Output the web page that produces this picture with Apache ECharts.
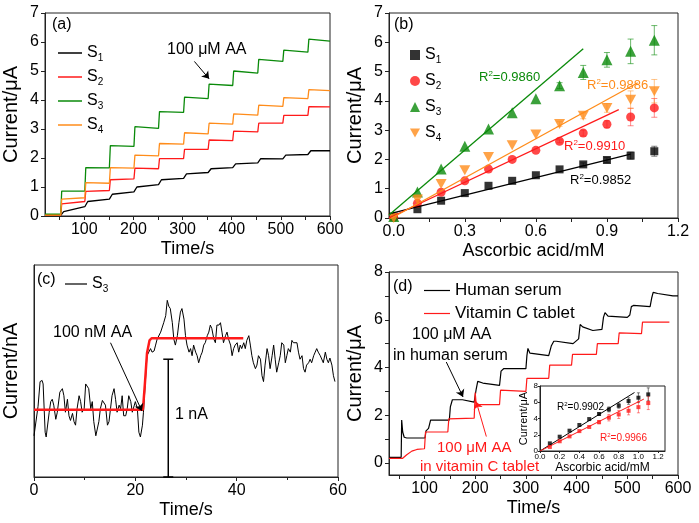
<!DOCTYPE html>
<html>
<head>
<meta charset="utf-8">
<title>Ascorbic acid sensing</title>
<script src="https://cdn.jsdelivr.net/npm/echarts@6/dist/echarts.min.js"></script>
<style>
  html, body { margin: 0; padding: 0; background: #fff; }
  #chart { width: 699px; height: 523px; }
</style>
</head>
<body>
<div id="chart"></div>
<script>
// ---- panel (a): amperometric steps, 100 uM AA each ----
const aTimes   = [52, 101, 151, 201, 251, 302, 352, 402, 453, 504, 555];
const aBase    = [0.02, 0.03, 0.06, 0.03];
const aS1Start = [0.15, 0.50, 0.75, 1.00, 1.25, 1.45, 1.63, 1.80, 1.98, 2.10, 2.25];
const aS1End   = [0.32, 0.58, 0.83, 1.08, 1.30, 1.50, 1.67, 1.83, 1.97, 2.12, 2.25];
const aS2Start = [0.42, 0.85, 1.25, 1.65, 1.98, 2.30, 2.62, 2.93, 3.20, 3.47, 3.77];
const aS2End   = [0.50, 0.88, 1.28, 1.63, 1.98, 2.30, 2.60, 2.90, 3.20, 3.47, 3.76];
const aS3Start = [0.86, 1.67, 2.43, 3.08, 3.60, 4.10, 4.55, 5.00, 5.40, 5.72, 6.10];
const aS3End   = [0.86, 1.66, 2.40, 3.02, 3.57, 4.05, 4.50, 4.93, 5.33, 5.65, 6.03];
const aS4Start = [0.58, 1.15, 1.67, 2.10, 2.50, 2.87, 3.20, 3.52, 3.82, 4.08, 4.36];
const aS4End   = [0.63, 1.13, 1.65, 2.07, 2.48, 2.83, 3.17, 3.48, 3.78, 4.05, 4.32];
const aArrow   = [[324, 5.33], [354, 4.73]];
const aXLabels = [100, 200, 300, 400, 500, 600];
const aXTicks  = [50, 100, 150, 200, 250, 300, 350, 400, 450, 500, 550, 600];

// ---- panel (b): calibration ----
const bConc = [0, 0.1, 0.2, 0.3, 0.4, 0.5, 0.6, 0.7, 0.8, 0.9, 1.0, 1.1];
const bS1 = [0.05, 0.30, 0.59, 0.85, 1.10, 1.27, 1.46, 1.66, 1.83, 1.98, 2.13, 2.28];
const bS2 = [0.02, 0.50, 0.88, 1.27, 1.67, 2.00, 2.31, 2.62, 2.90, 3.20, 3.45, 3.76];
const bS3 = [0.05, 0.89, 1.67, 2.45, 3.04, 3.59, 4.07, 4.52, 4.97, 5.40, 5.69, 6.07];
const bS4 = [0.00, 0.63, 1.16, 1.63, 2.08, 2.48, 2.85, 3.21, 3.49, 3.76, 4.04, 4.33];
const bE1 = [0, 0, 0, 0, 0, 0, 0, 0, 0.05, 0.08, 0.12, 0.17];
const bE2 = [0, 0, 0, 0, 0, 0, 0, 0.05, 0.10, 0.12, 0.30, 0.32];
const bE3 = [0, 0, 0, 0, 0, 0, 0, 0.10, 0.24, 0.25, 0.42, 0.50];
const bE4 = [0, 0, 0, 0, 0, 0, 0, 0.08, 0.10, 0.15, 0.30, 0.40];
const bFit1 = [[-0.02, 0.14], [1.0, 2.18]];
const bFit2 = [[-0.02, 0.0], [0.95, 3.7]];
const bFit3 = [[-0.02, 0.1], [0.8, 5.78]];
const bFit4 = [[-0.02, -0.05], [1.03, 4.62]];
const bXLabels = [0, 0.3, 0.6, 0.9, 1.2];
const bXTicks  = [0, 0.15, 0.3, 0.45, 0.6, 0.75, 0.9, 1.05, 1.2];

// ---- panel (c): 100 nM AA response of S3 ----
const cNoise = [[0.0,0.35],[0.3,0.34],[0.8,0.60],[1.2,0.81],[1.6,0.82],[1.8,0.79],[2.2,0.38],[2.4,0.34],
  [3.0,0.55],[3.3,0.64],[3.6,0.66],[3.9,0.61],[4.3,0.49],[4.6,0.55],[5.1,0.72],[5.6,0.75],[5.9,0.69],
  [6.2,0.55],[6.6,0.66],[6.9,0.52],[7.2,0.48],[7.6,0.54],[7.9,0.47],[8.2,0.44],[8.5,0.58],[8.9,0.69],
  [9.2,0.64],[9.5,0.55],[9.9,0.58],[10.2,0.79],[10.5,0.78],[10.8,0.75],[11.2,0.58],[11.5,0.64],[11.8,0.47],
  [12.2,0.35],[12.5,0.34],[12.8,0.47],[13.1,0.58],[13.5,0.65],[13.8,0.66],[14.1,0.61],[14.5,0.44],[14.8,0.47],
  [15.1,0.58],[15.4,0.69],[15.8,0.75],[16.1,0.66],[16.4,0.55],[16.8,0.61],[17.1,0.58],[17.4,0.69],[17.7,0.52],
  [18.1,0.52],[18.4,0.58],[18.7,0.69],[19.1,0.64],[19.4,0.55],[19.7,0.55],[20.0,0.64],[20.4,0.58],[20.7,0.38],
  [21.0,0.34],[21.4,0.44],[21.6,0.55],[22.3,1.03],[23.0,1.09],[23.3,1.06],[23.7,1.07],[24.0,1.12],[24.3,1.17],
  [25.0,1.23],[25.6,1.31],[26.0,1.37],[26.3,1.50],[26.6,1.45],[26.9,1.43],[27.3,1.31],[27.6,1.17],[27.9,1.12],
  [28.3,1.20],[28.6,1.31],[28.9,1.40],[29.2,1.43],[29.6,1.34],[29.9,1.20],[30.2,1.12],[30.6,1.06],[30.9,1.09],
  [31.2,1.03],[31.5,1.12],[31.9,1.06],[32.2,1.03],[32.5,0.97],[32.9,1.03],[33.2,1.06],[33.5,1.12],[33.8,1.14],
  [34.2,1.20],[34.5,1.23],[34.8,1.29],[35.1,1.26],[35.5,1.17],[35.8,1.14],[36.1,1.29],[36.5,1.29],[36.8,1.31],
  [37.1,1.23],[37.4,1.14],[37.8,1.20],[38.1,1.23],[38.4,1.17],[38.8,1.12],[39.1,1.03],[39.4,1.09],[39.7,1.12],
  [40.1,1.14],[40.4,1.06],[40.7,1.12],[41.0,1.09],[41.4,1.14],[41.7,1.09],[42.0,1.16],[42.4,1.20],[42.7,1.12],
  [43.0,1.03],[43.3,0.97],[43.7,0.92],[44.0,0.95],[44.3,1.03],[44.7,1.00],[45.0,0.86],[45.3,0.81],[45.6,0.95],
  [46.0,1.09],[46.3,1.03],[46.6,0.92],[47.0,1.03],[47.3,1.12],[47.6,1.00],[47.9,0.89],[48.3,0.97],[48.6,1.03],
  [48.9,1.14],[49.3,1.12],[49.6,0.97],[49.9,1.03],[50.2,1.09],[50.6,1.06],[50.9,1.16],[51.2,1.14],[51.5,1.13],
  [51.9,1.14],[52.2,1.06],[52.5,1.00],[52.9,1.03],[53.2,0.92],[53.5,0.89],[53.8,0.95],[54.2,0.97],[54.5,1.00],
  [54.8,0.97],[55.2,1.03],[55.5,1.06],[55.8,1.09],[56.1,1.06],[56.5,1.03],[56.8,1.03],[57.1,0.97],[57.5,1.06],
  [57.8,1.00],[58.1,0.97],[58.4,1.01],[58.8,0.95],[59.1,0.86],[59.4,0.81]];
const cStep = [[0,0.571],[21.5,0.571],[21.9,0.80],[22.3,1.05],[22.8,1.16],[23.2,1.178],[41.3,1.178]];
const cScaleBar = [[26.5, 0, 1.0]];
const cArrow = [[15.1, 1.14], [21.3, 0.56]];

// ---- panel (d): real samples ----
const dSerum = [[30,0.24],[54,0.24],[55,1.8],[57,1.3],[60,1.08],[65,1.05],[101,1.05],[103,1.35],[108,1.45],
  [112,1.8],[149,1.8],[151,2.35],[155,2.65],[175,2.65],[178,2.58],[198,2.55],[202,3.1],[205,3.42],[215,3.35],
  [248,3.25],[251,3.85],[256,3.95],[300,3.95],[302,4.5],[304,4.8],[308,4.6],[345,4.5],[350,4.9],[355,5.1],
  [360,5.1],[393,5.0],[404,5.2],[407,5.8],[412,5.7],[432,5.55],[450,5.6],[453,6.1],[456,6.3],[462,6.15],
  [500,6.1],[505,6.2],[508,6.55],[512,6.6],[545,6.55],[548,6.9],[551,7.15],[560,7.1],[590,7.0],[600,7.0]];
const dTablet = [[30,0.2],[57,0.2],[65,0.35],[75,0.5],[85,0.57],[100,0.6],[102,1.3],[146,1.3],[148,1.85],
  [198,1.88],[200,2.95],[202,2.45],[248,2.45],[250,3.05],[300,3.0],[302,3.55],[345,3.55],[347,4.1],[390,4.1],
  [392,4.55],[439,4.55],[441,5.0],[482,5.0],[484,5.45],[528,5.42],[530,5.9],[583,5.9]];
const dArrowSerum  = [[143, 4.23], [176, 2.77]];
const dArrowTablet = [[222, 1.11], [202, 2.57]];
const dXLabels = [100, 200, 300, 400, 500, 600];
const dXTicks  = [50, 100, 150, 200, 250, 300, 350, 400, 450, 500, 550, 600];
const dYLabels = [0, 2, 4, 6, 8];
const dYTicks  = [0, 1, 2, 3, 4, 5, 6, 7, 8];

// ---- inset of (d) ----
const iConc   = [0.1, 0.2, 0.3, 0.4, 0.5, 0.6, 0.7, 0.8, 0.9, 1.0, 1.1];
const iSerum  = [0.94, 1.76, 2.5, 3.2, 3.93, 4.55, 5.12, 5.57, 6.15, 6.56, 6.97];
const iTablet = [0.5, 1.2, 1.8, 2.45, 2.95, 3.55, 4.1, 4.5, 4.95, 5.4, 5.9];
const iErrS   = [0, 0, 0, 0, 0, 0.15, 0.3, 0.3, 0.4, 0.6, 0.8];
const iErrT   = [0, 0, 0, 0, 0, 0.2, 0.4, 0.5, 0.5, 0.7, 0.8];
const iFitS   = [[0, 0], [0.96, 7.2]];
const iFitT   = [[0, 0], [1.055, 6.39]];
const iXLabels = [0, 0.2, 0.4, 0.6, 0.8, 1.0, 1.2];
const iYLabels = [0, 2, 4, 6, 8];

const FONT = "'Liberation Sans',Arial,sans-serif";
const GREEN = '#0a8a0a', ORANGE = '#ff8c1a', RED = '#ff1a1a';
const DOWN_TRI = 'path://M0,0L10,0L5,9Z';

function stepCurve(base, starts, ends, rise) {
  const pts = [[20, base]];
  let prev = base;
  for (let i = 0; i < aTimes.length; i++) {
    const next = i + 1 < aTimes.length ? aTimes[i + 1] : 600;
    pts.push([aTimes[i], prev]);
    pts.push([aTimes[i] + rise, starts[i]]);
    pts.push([next, ends[i]]);
    prev = ends[i];
  }
  return pts;
}
function zip(xs, ys, es) {
  return xs.map((x, i) => es ? [x, ys[i], es[i]] : [x, ys[i]]);
}

function errBars(params, api) {
  const x = api.value(0), y = api.value(1), e = api.value(2);
  if (!e) return;
  const top = api.coord([x, y + e]), bot = api.coord([x, y - e]);
  const w = params.seriesName.indexOf('i') === 0 ? 1.5 : 3;
  const st = { stroke: api.visual('color'), lineWidth: 1 };
  return { type: 'group', children: [
    { type: 'line', shape: { x1: top[0], y1: top[1], x2: bot[0], y2: bot[1] }, style: st },
    { type: 'line', shape: { x1: top[0] - w, y1: top[1], x2: top[0] + w, y2: top[1] }, style: st },
    { type: 'line', shape: { x1: bot[0] - w, y1: bot[1], x2: bot[0] + w, y2: bot[1] }, style: st }
  ]};
}
function scaleBar(params, api) {
  const x = api.value(0);
  const top = api.coord([x, api.value(2)]), bot = api.coord([x, api.value(1)]);
  const st = { stroke: '#000', lineWidth: 1.5 };
  return { type: 'group', children: [
    { type: 'line', shape: { x1: top[0], y1: top[1], x2: bot[0], y2: bot[1] }, style: st },
    { type: 'line', shape: { x1: top[0] - 5, y1: top[1], x2: top[0] + 5, y2: top[1] }, style: st },
    { type: 'line', shape: { x1: bot[0] - 5, y1: bot[1], x2: bot[0] + 5, y2: bot[1] }, style: st }
  ]};
}
function arrow(pair, color) {
  return {
    silent: true, symbol: ['none', 'arrow'], symbolSize: 7, animation: false,
    label: { show: false }, emphasis: { disabled: true },
    lineStyle: { color: color, width: 1, type: 'solid' },
    data: [[{ coord: pair[0] }, { coord: pair[1] }]]
  };
}

const axLine = { show: true, onZero: false, lineStyle: { color: '#222', width: 1 } };
function xAx(g, min, max, labels, ticks, fmt, name, fs) {
  const big = fs > 10;
  return {
    type: 'value', gridIndex: g, min: min, max: max,
    axisLine: axLine, splitLine: { show: false },
    axisTick: { show: !!ticks, length: big ? 4 : 2, customValues: ticks, lineStyle: { color: '#222' } },
    axisLabel: { show: !!labels, customValues: labels, formatter: fmt, fontSize: fs, color: '#000', fontFamily: FONT, margin: big ? 6 : 2 },
    name: name, nameLocation: 'middle', nameGap: big ? 24 : 10,
    nameTextStyle: { fontSize: big ? 18 : 12, color: '#000', fontFamily: FONT }
  };
}
function yAx(g, min, max, labels, ticks, name, gap, fs) {
  const big = fs > 10;
  return {
    type: 'value', gridIndex: g, min: min, max: max,
    axisLine: axLine, splitLine: { show: false },
    axisTick: { show: !!ticks, length: big ? 4 : 2, customValues: ticks, lineStyle: { color: '#222' } },
    axisLabel: { show: !!labels, customValues: labels, fontSize: fs, color: '#000', fontFamily: FONT, margin: big ? 6 : 2 },
    name: name, nameLocation: 'middle', nameGap: gap,
    nameTextStyle: { fontSize: big ? 20 : 11, color: '#000', fontFamily: FONT }
  };
}
const int7 = [0, 1, 2, 3, 4, 5, 6, 7];
const f1 = v => v.toFixed(1);
const fInt = v => String(v);

const subRich = {
  m: { fontSize: 16, fontFamily: FONT, color: '#000', lineHeight: 20 },
  s: { fontSize: 10, fontFamily: FONT, color: '#000', verticalAlign: 'bottom', lineHeight: 11 }
};
function supRich(color, fs) {
  return {
    m: { fontSize: fs, fontFamily: FONT, fill: color, lineHeight: fs + 2 },
    p: { fontSize: Math.round(fs * 0.6), fontFamily: FONT, fill: color, verticalAlign: 'top', lineHeight: fs }
  };
}
function txt(x, y, text, fs, color, rich) {
  return { type: 'text', x: x, y: y, silent: true, z: 100,
    style: { text: text, fontSize: fs, fontFamily: FONT, fill: color || '#000', verticalAlign: 'middle', rich: rich } };
}
function r2(x, y, val, color, fs) {
  return txt(x, y, '{m|R}{p|2}{m|=' + val + '}', fs, color, supRich(color, fs));
}

const chart = echarts.init(document.getElementById('chart'), null, { renderer: 'canvas' });
chart.setOption({
  animation: false,
  backgroundColor: '#fff',
  grid: [
    { left: 45, top: 13, width: 285, height: 203, show: true, borderColor: '#222', borderWidth: 1 },
    { left: 389, top: 13, width: 289, height: 205, show: true, borderColor: '#222', borderWidth: 1 },
    { left: 33, top: 265, width: 305, height: 212, show: true, borderColor: '#222', borderWidth: 1 },
    { left: 389, top: 272, width: 289, height: 203, show: true, borderColor: '#222', borderWidth: 1 },
    { left: 540, top: 386, width: 125, height: 65, show: true, borderColor: '#222', borderWidth: 1, backgroundColor: '#fff' }
  ],
  xAxis: [
    xAx(0, 20, 600, aXLabels, aXTicks, fInt, 'Time/s', 16),
    xAx(1, -0.02, 1.2, bXLabels, bXTicks, f1, 'Ascorbic acid/mM', 16),
    Object.assign(xAx(2, 0, 60, null, null, fInt, 'Time/s', 16), {
      interval: 20, axisTick: { show: true, length: 4, lineStyle: { color: '#222' } },
      minorTick: { show: true, splitNumber: 2, length: 3, lineStyle: { color: '#222' } },
      axisLabel: { fontSize: 16, color: '#000', fontFamily: FONT, margin: 6 } }),
    xAx(3, 30, 600, dXLabels, dXTicks, fInt, 'Time/s', 16),
    xAx(4, 0, 1.27, iXLabels, iXLabels, f1, 'Ascorbic acid/mM', 8)
  ],
  yAxis: [
    yAx(0, 0, 7, int7, int7, 'Current/\u03bcA', 24, 16),
    yAx(1, 0, 7, int7, int7, 'Current/\u03bcA', 24, 16),
    yAx(2, 0, 1.8, null, null, 'Current/nA', 13, 16),
    yAx(3, -0.5, 8, dYLabels, dYTicks, 'Current/\u03bcA', 24, 16),
    yAx(4, 0, 8, iYLabels, iYLabels, 'Current/\u03bcA', 8, 8)
  ],
  legend: [
    { orient: 'vertical', left: 53, top: 40, icon: 'rect', itemWidth: 24, itemHeight: 1.5, itemGap: 6,
      data: ['a1', 'a2', 'a3', 'a4'], formatter: n => '{m|S}{s|' + n.slice(1) + '}',
      textStyle: { rich: subRich } },
    { orient: 'vertical', left: 405, top: 42, itemWidth: 10, itemHeight: 10, itemGap: 8,
      data: ['b1', 'b2', 'b3', 'b4'], formatter: n => '{m|S}{s|' + n.slice(1) + '}',
      textStyle: { rich: subRich } },
    { orient: 'horizontal', left: 60, top: 271, icon: 'rect', itemWidth: 22, itemHeight: 1.2,
      data: ['c3'], formatter: () => '{m|S}{s|3}', textStyle: { rich: subRich } },
    { orient: 'vertical', left: 419, top: 277, icon: 'rect', itemWidth: 26, itemHeight: 1.2, itemGap: 6,
      data: ['Human serum', 'Vitamin C tablet'],
      textStyle: { fontSize: 17, fontFamily: FONT, color: '#000' } }
  ],
  series: [
    { type: 'line', name: 'a1', xAxisIndex: 0, yAxisIndex: 0, symbol: 'none', data: stepCurve(aBase[0], aS1Start, aS1End, 6),
      color: '#000', lineStyle: { width: 1.3 } },
    { type: 'line', name: 'a2', xAxisIndex: 0, yAxisIndex: 0, symbol: 'none', data: stepCurve(aBase[1], aS2Start, aS2End, 2),
      color: RED, lineStyle: { width: 1.3 } },
    { type: 'line', name: 'a3', xAxisIndex: 0, yAxisIndex: 0, symbol: 'none', data: stepCurve(aBase[2], aS3Start, aS3End, 2),
      color: GREEN, lineStyle: { width: 1.3 }, markLine: arrow(aArrow, '#000') },
    { type: 'line', name: 'a4', xAxisIndex: 0, yAxisIndex: 0, symbol: 'none', data: stepCurve(aBase[3], aS4Start, aS4End, 2),
      color: ORANGE, lineStyle: { width: 1.3 } },

    { type: 'line', name: 'fit1', xAxisIndex: 1, yAxisIndex: 1, symbol: 'none', data: bFit1, color: '#000', lineStyle: { width: 1.3 } },
    { type: 'line', name: 'fit2', xAxisIndex: 1, yAxisIndex: 1, symbol: 'none', data: bFit2, color: RED, lineStyle: { width: 1.3 } },
    { type: 'line', name: 'fit3', xAxisIndex: 1, yAxisIndex: 1, symbol: 'none', data: bFit3, color: GREEN, lineStyle: { width: 1.3 } },
    { type: 'line', name: 'fit4', xAxisIndex: 1, yAxisIndex: 1, symbol: 'none', data: bFit4, color: ORANGE, lineStyle: { width: 1.3 } },
    { type: 'custom', name: 'e1', xAxisIndex: 1, yAxisIndex: 1, renderItem: errBars, data: zip(bConc, bS1, bE1), itemStyle: { color: 'rgba(0,0,0,0.5)' } },
    { type: 'custom', name: 'e2', xAxisIndex: 1, yAxisIndex: 1, renderItem: errBars, data: zip(bConc, bS2, bE2), itemStyle: { color: 'rgba(255,26,26,0.5)' } },
    { type: 'custom', name: 'e3', xAxisIndex: 1, yAxisIndex: 1, renderItem: errBars, data: zip(bConc, bS3, bE3), itemStyle: { color: 'rgba(10,138,10,0.6)' } },
    { type: 'custom', name: 'e4', xAxisIndex: 1, yAxisIndex: 1, renderItem: errBars, data: zip(bConc, bS4, bE4), itemStyle: { color: 'rgba(255,140,26,0.5)' } },
    { type: 'scatter', name: 'b1', xAxisIndex: 1, yAxisIndex: 1, symbol: 'rect', symbolSize: 8, data: zip(bConc, bS1), color: '#000' },
    { type: 'scatter', name: 'b2', xAxisIndex: 1, yAxisIndex: 1, symbol: 'circle', symbolSize: 9, data: zip(bConc, bS2), color: RED },
    { type: 'scatter', name: 'b3', xAxisIndex: 1, yAxisIndex: 1, symbol: 'triangle', symbolSize: 11, data: zip(bConc, bS3), color: GREEN },
    { type: 'scatter', name: 'b4', xAxisIndex: 1, yAxisIndex: 1, symbol: DOWN_TRI, symbolSize: [11, 10], data: zip(bConc, bS4), color: ORANGE },

    { type: 'line', name: 'c3', xAxisIndex: 2, yAxisIndex: 2, symbol: 'none', data: cNoise, color: '#000', lineStyle: { width: 1 },
      markLine: arrow(cArrow, '#000') },
    { type: 'line', name: 'cstep', xAxisIndex: 2, yAxisIndex: 2, symbol: 'none', data: cStep, color: RED, lineStyle: { width: 2.5 } },
    { type: 'custom', name: 'cbar', xAxisIndex: 2, yAxisIndex: 2, renderItem: scaleBar, data: cScaleBar },

    { type: 'line', name: 'Human serum', xAxisIndex: 3, yAxisIndex: 3, symbol: 'none', data: dSerum, color: '#000', lineStyle: { width: 1.2 },
      markLine: arrow(dArrowSerum, '#000') },
    { type: 'line', name: 'Vitamin C tablet', xAxisIndex: 3, yAxisIndex: 3, symbol: 'none', data: dTablet, color: RED, lineStyle: { width: 1.2 },
      markLine: arrow(dArrowTablet, RED) },

    { type: 'line', name: 'iFitS', xAxisIndex: 4, yAxisIndex: 4, symbol: 'none', data: iFitS, color: '#000', lineStyle: { width: 1 }, z: 5 },
    { type: 'line', name: 'iFitT', xAxisIndex: 4, yAxisIndex: 4, symbol: 'none', data: iFitT, color: RED, lineStyle: { width: 1 }, z: 5 },
    { type: 'custom', name: 'ieS', xAxisIndex: 4, yAxisIndex: 4, renderItem: errBars, data: zip(iConc, iSerum, iErrS), itemStyle: { color: 'rgba(0,0,0,0.5)' }, z: 5 },
    { type: 'custom', name: 'ieT', xAxisIndex: 4, yAxisIndex: 4, renderItem: errBars, data: zip(iConc, iTablet, iErrT), itemStyle: { color: 'rgba(255,26,26,0.5)' }, z: 5 },
    { type: 'scatter', name: 'iS', xAxisIndex: 4, yAxisIndex: 4, symbol: 'rect', symbolSize: 4, data: zip(iConc, iSerum), color: '#000', z: 5 },
    { type: 'scatter', name: 'iT', xAxisIndex: 4, yAxisIndex: 4, symbol: 'rect', symbolSize: 4, data: zip(iConc, iTablet), color: RED, z: 5 }
  ],
  graphic: [
    txt(52, 25, '(a)', 16),
    txt(167, 50, '100 \u03bcM AA', 16),
    txt(394, 25, '(b)', 16),
    r2(479, 77, '0.9860', GREEN, 13),
    r2(587, 85, '0.9886', ORANGE, 13),
    r2(564, 146, '0.9910', RED, 13),
    r2(570, 180, '0.9852', '#000', 13),
    txt(37, 280, '(c)', 16),
    txt(53, 333, '100 nM AA', 16),
    txt(175, 415, '1 nA', 16),
    txt(393, 287, '(d)', 16),
    txt(412, 335, '100 \u03bcM AA', 16),
    txt(393, 356, 'in human serum', 16),
    txt(437, 448, '100 \u03bcM AA', 15, RED),
    txt(420, 467, 'in vitamin C tablet', 15, RED),
    r2(557, 407, '0.9902', '#000', 10),
    r2(600, 438, '0.9966', RED, 10)
  ]
});
</script>
</body>
</html>
